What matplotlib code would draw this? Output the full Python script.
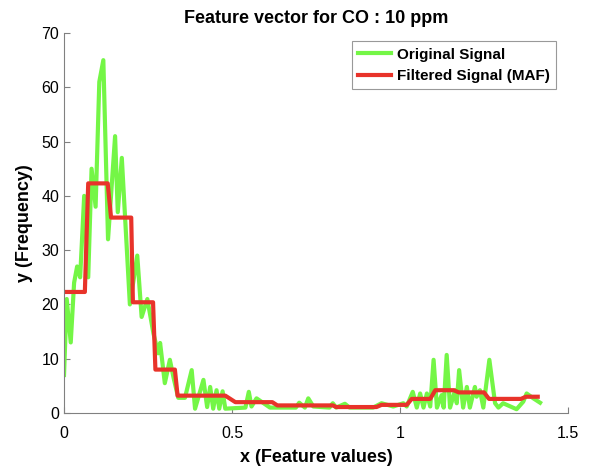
import matplotlib
matplotlib.use("Agg")
import matplotlib.pyplot as plt

plt.rcParams["font.family"] = ["Liberation Sans", "DejaVu Sans"]

# original histogram-like feature signal
x_orig = [0.000, 0.008, 0.020, 0.030, 0.039, 0.048, 0.060, 0.072, 0.082, 0.094,
          0.105, 0.117, 0.131, 0.152, 0.160, 0.172, 0.196, 0.218, 0.231, 0.248,
          0.266, 0.280, 0.286, 0.300, 0.315, 0.326, 0.340, 0.360, 0.380, 0.390,
          0.415, 0.426, 0.435, 0.444, 0.454, 0.462, 0.472, 0.480, 0.540, 0.550,
          0.558, 0.573, 0.613, 0.690, 0.700, 0.717, 0.727, 0.742, 0.790, 0.800,
          0.810, 0.836, 0.850, 0.920, 0.945, 0.980, 1.010, 1.020, 1.038, 1.050,
          1.060, 1.070, 1.080, 1.090, 1.100, 1.110, 1.124, 1.130, 1.139, 1.149,
          1.164, 1.169, 1.176, 1.188, 1.199, 1.208, 1.223, 1.228, 1.238, 1.248,
          1.266, 1.283, 1.293, 1.307, 1.347, 1.367, 1.377, 1.397, 1.417]
y_orig = [7.0, 21.0, 13.0, 24.0, 27.0, 25.0, 40.0, 25.0, 45.0, 38.0,
          61.0, 65.0, 32.0, 51.0, 37.0, 47.0, 20.0, 29.0, 17.7, 21.0,
          14.7, 11.0, 12.9, 5.5, 9.8, 6.5, 2.8, 2.8, 7.9, 0.8,
          6.1, 1.1, 4.8, 0.8, 4.2, 0.8, 4.0, 0.8, 1.0, 3.9,
          1.2, 2.7, 1.0, 1.0, 1.9, 1.0, 2.7, 1.2, 1.0, 1.8,
          1.0, 1.7, 1.0, 1.0, 1.8, 1.2, 1.8, 1.2, 3.9, 1.0,
          3.6, 1.0, 3.6, 1.2, 9.8, 1.0, 3.3, 1.0, 10.7, 1.0,
          4.2, 1.8, 7.9, 1.0, 4.8, 1.0, 4.8, 3.0, 4.2, 1.0,
          9.8, 1.8, 1.0, 1.8, 0.7, 2.1, 3.6, 2.7, 1.9]

# moving-average filtered signal (block steps)
x_maf = [0.000, 0.062, 0.072, 0.130, 0.140, 0.200, 0.205, 0.265, 0.272, 0.330,
         0.338, 0.480, 0.510, 0.620, 0.635, 0.800, 0.810, 0.930, 0.945, 1.020,
         1.035, 1.090, 1.105, 1.160, 1.175, 1.250, 1.265, 1.360, 1.375, 1.410]
y_maf = [22.3, 22.3, 42.3, 42.3, 36.0, 36.0, 20.4, 20.4, 8.0, 8.0,
         3.2, 3.2, 2.0, 2.0, 1.4, 1.4, 1.1, 1.1, 1.5, 1.5,
         2.6, 2.6, 4.2, 4.2, 3.8, 3.8, 2.6, 2.6, 3.0, 3.0]

fig = plt.figure(figsize=(5.89, 4.67), dpi=100)
ax = fig.add_axes([0.1087, 0.1156, 0.8556, 0.8137])

ax.plot(x_orig, y_orig, color="#74f646", lw=3, label="Original Signal")
ax.plot(x_maf, y_maf, color="#e8332a", lw=3, label="Filtered Signal (MAF)")

ax.set_xlim(0, 1.5)
ax.set_ylim(0, 70)
ax.set_xticks([0, 0.5, 1, 1.5])
ax.set_xticklabels(["0", "0.5", "1", "1.5"])
ax.set_yticks(range(0, 71, 10))

for side in ("top", "right"):
    ax.spines[side].set_visible(False)
for side in ("left", "bottom"):
    ax.spines[side].set_color("#808080")
ax.tick_params(direction="in", length=4, color="#808080", labelsize=11.5,
               labelcolor="black")
ax.tick_params(axis="x", pad=9)

ax.set_title("Feature vector for CO : 10 ppm", fontsize=13, fontweight="bold", pad=7)
ax.set_xlabel("x (Feature values)", fontsize=13, fontweight="bold", labelpad=6)
ax.set_ylabel("y (Frequency)", fontsize=13, fontweight="bold", labelpad=6)

leg = ax.legend(loc="upper right", bbox_to_anchor=(0.985, 0.99),
                prop={"weight": "bold", "size": 11}, fancybox=False,
                edgecolor="#808080", handlelength=2.2, handletextpad=0.35,
                borderaxespad=0.3)
leg.get_frame().set_linewidth(0.8)

fig.savefig("out.png", dpi=100)
